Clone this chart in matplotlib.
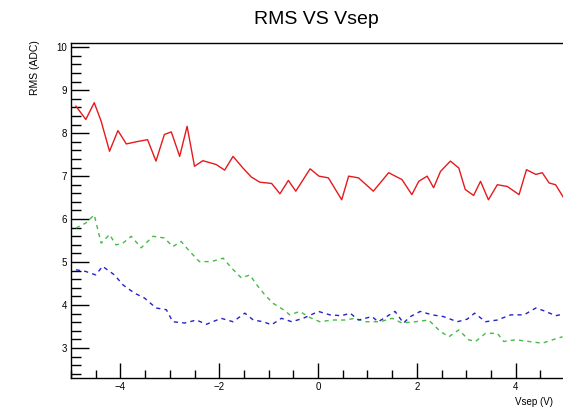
import matplotlib
matplotlib.use("Agg")
import matplotlib.pyplot as plt
from matplotlib.ticker import MultipleLocator

plt.rcParams['font.family'] = ['Liberation Sans', 'DejaVu Sans']

# Red series (solid)
vsep_red = [-4.90, -4.70, -4.53, -4.39, -4.22, -4.05, -3.88, -3.68, -3.45, -3.28,
            -3.11, -2.97, -2.80, -2.65, -2.50, -2.33, -2.06, -1.89, -1.72, -1.52,
            -1.35, -1.18, -0.94, -0.77, -0.60, -0.45, -0.16, 0.02, 0.21, 0.48,
            0.62, 0.82, 1.12, 1.43, 1.70, 1.90, 2.04, 2.21, 2.34, 2.48,
            2.68, 2.85, 2.98, 3.15, 3.29, 3.45, 3.63, 3.83, 4.07, 4.22,
            4.41, 4.54, 4.68, 4.81, 4.97]
rms_red = [8.63, 8.32, 8.71, 8.28, 7.58, 8.06, 7.75, 7.80, 7.85, 7.35,
           7.97, 8.03, 7.46, 8.16, 7.23, 7.36, 7.27, 7.14, 7.46, 7.19,
           6.98, 6.86, 6.83, 6.59, 6.90, 6.65, 7.17, 7.00, 6.96, 6.45,
           7.00, 6.96, 6.65, 7.08, 6.92, 6.57, 6.88, 7.00, 6.73, 7.11,
           7.35, 7.19, 6.69, 6.55, 6.88, 6.45, 6.80, 6.76, 6.57, 7.15,
           7.04, 7.08, 6.84, 6.80, 6.50]

# Green series (dashed)
vsep_green = [-4.90, -4.70, -4.53, -4.39, -4.22, -4.09, -3.95, -3.78, -3.58, -3.34,
              -3.11, -2.94, -2.77, -2.60, -2.40, -2.16, -1.92, -1.75, -1.55, -1.38,
              -1.24, -1.08, -0.91, -0.70, -0.57, -0.37, -0.15, 0.04, 0.28, 0.55,
              0.75, 0.95, 1.26, 1.50, 1.70, 1.97, 2.24, 2.48, 2.65, 2.85,
              3.05, 3.19, 3.39, 3.63, 3.76, 4.00, 4.27, 4.54, 4.75, 4.95]
rms_green = [5.79, 5.91, 6.10, 5.44, 5.64, 5.40, 5.44, 5.60, 5.33, 5.60,
             5.56, 5.36, 5.48, 5.25, 5.01, 5.01, 5.09, 4.86, 4.63, 4.70,
             4.47, 4.24, 4.04, 3.89, 3.77, 3.85, 3.70, 3.61, 3.65, 3.65,
             3.69, 3.61, 3.61, 3.69, 3.58, 3.61, 3.65, 3.38, 3.26, 3.42,
             3.19, 3.15, 3.34, 3.34, 3.15, 3.19, 3.15, 3.11, 3.19, 3.26]

# Blue series (dashed)
vsep_blue = [-4.90, -4.70, -4.50, -4.36, -4.12, -3.95, -3.72, -3.51, -3.28, -3.07,
             -2.94, -2.70, -2.46, -2.26, -1.96, -1.72, -1.48, -1.31, -1.11, -0.94,
             -0.74, -0.53, -0.30, 0.01, 0.24, 0.48, 0.65, 0.82, 1.09, 1.22,
             1.56, 1.73, 1.87, 2.07, 2.31, 2.54, 2.82, 3.02, 3.17, 3.39,
             3.63, 3.90, 4.17, 4.41, 4.61, 4.81, 4.97]
rms_blue = [4.82, 4.78, 4.70, 4.90, 4.70, 4.47, 4.28, 4.16, 3.93, 3.89,
            3.61, 3.58, 3.65, 3.55, 3.69, 3.61, 3.81, 3.65, 3.61, 3.54,
            3.69, 3.61, 3.69, 3.85, 3.77, 3.75, 3.81, 3.65, 3.73, 3.61,
            3.85, 3.58, 3.73, 3.85, 3.77, 3.73, 3.61, 3.67, 3.81, 3.61,
            3.65, 3.77, 3.77, 3.93, 3.85, 3.75, 3.79]

fig = plt.figure(figsize=(5.63, 4.12), dpi=100)
ax = fig.add_axes([71/563, 1 - 378/412, 494/563, (378 - 43)/412])

ax.plot(vsep_red, rms_red, color='#e41a1c', lw=1.0)
ax.plot(vsep_green, rms_green, color='#44bb44', lw=1.0, ls=(0, (3, 3)))
ax.plot(vsep_blue, rms_blue, color='#2222cc', lw=1.0, ls=(0, (3, 3)))

ax.set_xlim(-5, 5)
ax.set_ylim(2.3, 10.1)
ax.xaxis.set_major_locator(MultipleLocator(2))
ax.xaxis.set_minor_locator(MultipleLocator(0.5))
ax.yaxis.set_major_locator(MultipleLocator(1))
ax.yaxis.set_minor_locator(MultipleLocator(0.2))
ax.tick_params(which='both', direction='in', top=False, right=False,
               labelsize=7, width=1.0, color='black', pad=3)
ax.tick_params(axis='y', which='major', length=13)
ax.tick_params(axis='y', which='minor', length=7)
ax.tick_params(axis='x', which='major', length=11)
ax.tick_params(axis='x', which='minor', length=6)
for s in ax.spines.values():
    s.set_linewidth(1.0)

fig.text(316/563, 1 - 24/412, 'RMS VS Vsep', fontsize=14, ha='center', va='baseline')
fig.text(515/563, 1 - 402/412, 'Vsep (V)', fontsize=7, ha='left', va='center')
fig.text(35/563, 1 - 40/412, 'RMS (ADC)', fontsize=7.5, rotation=90,
         ha='center', va='top')

fig.savefig('out.png', dpi=100)
